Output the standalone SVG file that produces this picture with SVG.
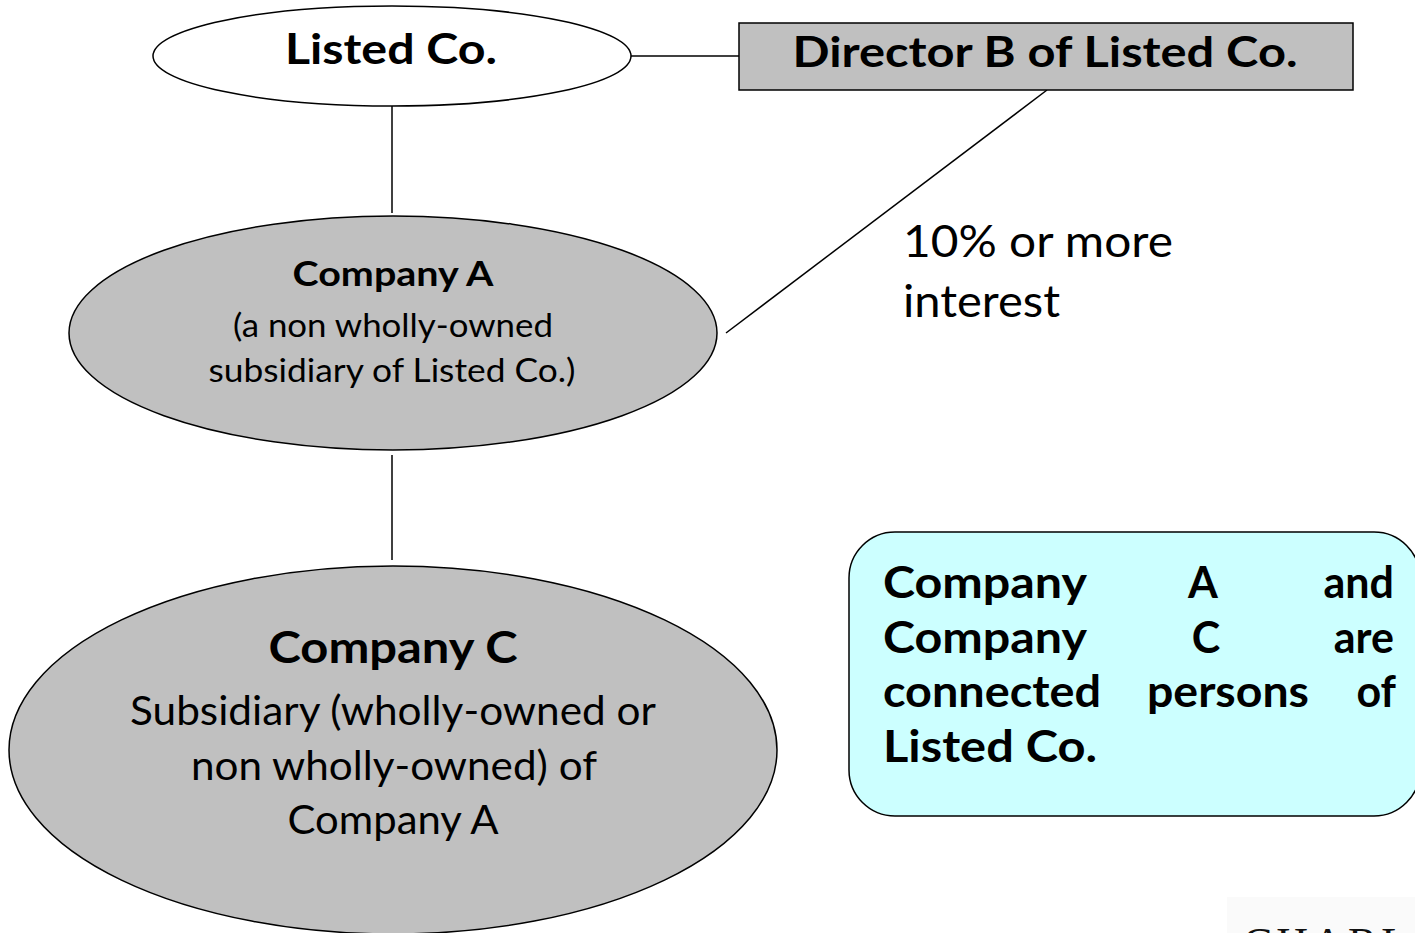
<svg xmlns="http://www.w3.org/2000/svg" width="1415" height="933" viewBox="0 0 1415 933">
<style>
.t{font-family:"Lato","Open Sans","Liberation Sans",sans-serif;fill:#000}
.b{font-weight:bold}
.n{stroke:#000;stroke-width:1.5}
.c{stroke:#000;stroke-width:1.5;fill:none}
</style>
<rect x="0" y="0" width="1415" height="933" fill="#fff"/>
<rect x="1227" y="897" width="188" height="36" fill="#fafafa"/>
<g id="connectors">
<line class="c" x1="631" y1="56" x2="739" y2="56"/>
<line class="c" x1="392" y1="106" x2="392" y2="213"/>
<line class="c" x1="1047" y1="90" x2="726" y2="333"/>
<line class="c" x1="392" y1="455" x2="392" y2="560"/>
</g>
<g id="listed-co">
<ellipse class="n" cx="392" cy="56" rx="239" ry="50" fill="#fff"/>
<text class="t b" x="391" y="64" font-size="42" text-anchor="middle" textLength="212" lengthAdjust="spacingAndGlyphs">Listed Co.</text>
</g>
<g id="director-b">
<rect class="n" x="739" y="23" width="614" height="67" fill="#c0c0c0"/>
<text class="t b" x="1045" y="67" font-size="42" text-anchor="middle" textLength="505" lengthAdjust="spacingAndGlyphs">Director B of Listed Co.</text>
</g>
<g id="company-a">
<ellipse class="n" cx="393" cy="333" rx="324" ry="117" fill="#c0c0c0"/>
<text class="t b" x="393" y="286" font-size="35" text-anchor="middle" textLength="201" lengthAdjust="spacingAndGlyphs">Company A</text>
<text class="t" x="393" y="337" font-size="33" text-anchor="middle" textLength="320" lengthAdjust="spacingAndGlyphs">(a non wholly-owned</text>
<text class="t" x="392" y="382" font-size="33" text-anchor="middle" textLength="367" lengthAdjust="spacingAndGlyphs">subsidiary of Listed Co.)</text>
</g>
<g id="interest-label">
<text class="t" x="903" y="257" font-size="44" textLength="270" lengthAdjust="spacingAndGlyphs">10% or more</text>
<text class="t" x="903" y="317" font-size="44" textLength="157" lengthAdjust="spacingAndGlyphs">interest</text>
</g>
<g id="company-c">
<ellipse class="n" cx="393" cy="750" rx="384" ry="184" fill="#c0c0c0"/>
<text class="t b" x="393" y="663" font-size="43" text-anchor="middle" textLength="249" lengthAdjust="spacingAndGlyphs">Company C</text>
<text class="t" x="393" y="725" font-size="41" text-anchor="middle" textLength="526" lengthAdjust="spacingAndGlyphs">Subsidiary (wholly-owned or</text>
<text class="t" x="394" y="780" font-size="41" text-anchor="middle" textLength="406" lengthAdjust="spacingAndGlyphs">non wholly-owned) of</text>
<text class="t" x="393" y="834" font-size="41" text-anchor="middle" textLength="211" lengthAdjust="spacingAndGlyphs">Company A</text>
</g>
<g id="note">
<rect class="n" x="849" y="532" width="571" height="284" rx="46" ry="46" fill="#ccffff"/>
<text class="t b" x="883" y="598" font-size="43" textLength="204" lengthAdjust="spacingAndGlyphs">Company</text>
<text class="t b" x="1203" y="598" font-size="43" text-anchor="middle">A</text>
<text class="t b" x="1394" y="598" font-size="43" text-anchor="end">and</text>
<text class="t b" x="883" y="653" font-size="43" textLength="204" lengthAdjust="spacingAndGlyphs">Company</text>
<text class="t b" x="1206" y="653" font-size="43" text-anchor="middle">C</text>
<text class="t b" x="1394" y="653" font-size="43" text-anchor="end">are</text>
<text class="t b" x="883" y="707" font-size="43" textLength="218" lengthAdjust="spacingAndGlyphs">connected</text>
<text class="t b" x="1147" y="707" font-size="43" textLength="162" lengthAdjust="spacingAndGlyphs">persons</text>
<text class="t b" x="1396" y="707" font-size="43" text-anchor="end">of</text>
<text class="t b" x="883" y="762" font-size="43" textLength="214" lengthAdjust="spacingAndGlyphs">Listed Co.</text>
</g>
<g id="logo">
<text x="1243" y="958" font-family="Liberation Serif,serif" font-size="44" fill="#111" letter-spacing="4">CHARL</text>
</g>
</svg>
